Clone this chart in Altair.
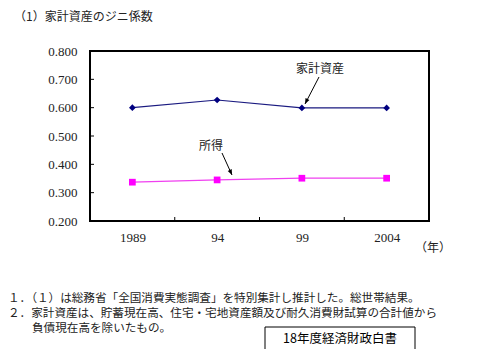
import altair as alt
import pandas as pd

years = ["1989", "94", "99", "2004"]
assets = [0.600, 0.627, 0.599, 0.599]
income = [0.337, 0.345, 0.351, 0.351]
y_ticks = [0.2, 0.3, 0.4, 0.5, 0.6, 0.7, 0.8]

title_text = "（1）家計資産のジニ係数"
notes = [
    "１．（１）は総務省「全国消費実態調査」を特別集計し推計した。総世帯結果。",
    "２．家計資産は、貯蓄現在高、住宅・宅地資産額及び耐久消費財試算の合計値から",
    "負債現在高を除いたもの。",
]
note_indent = [0, 0, 24]
source_text = "18年度経済財政白書"
unit_text = "（年）"

W, H = 339, 170
L, T = 82, 43  # padding -> plot origin at (90, 51) on page
JP = "Noto Sans CJK JP"
NUM = "Liberation Serif"

df = pd.DataFrame({
    "pos": list(range(len(years))) * 2,
    "year": years * 2,
    "value": assets + income,
    "series": ["家計資産"] * len(years) + ["所得"] * len(years),
})

xscale = alt.Scale(domain=[-0.5, len(years) - 0.5], nice=False, zero=False)
yscale = alt.Scale(domain=[0.2, 0.8], nice=False, zero=False)
xaxis = alt.Axis(values=list(range(len(years))), title=None, ticks=False, domain=False, grid=False,
                 labelExpr="['" + "','".join(years) + "'][datum.value]", labelOverlap=False,
                 labelFont=NUM, labelFontSize=13, labelColor="#222", labelPadding=10)
yaxis = alt.Axis(values=y_ticks, format=".3f", title=None, ticks=False, domain=False, grid=False,
                 labelOverlap=False, labelFont=NUM, labelFontSize=13, labelColor="#222",
                 labelPadding=13)
xs = alt.X("pos:Q", scale=xscale, axis=xaxis, title=None)
ys = alt.Y("value:Q", scale=yscale, axis=yaxis, title=None)

base = alt.Chart(df)
color_scale = alt.Scale(domain=["家計資産", "所得"], range=["#1a1a80", "#F040F0"])

lines = base.mark_line(strokeWidth=1.2).encode(
    x=xs, y=ys, color=alt.Color("series:N", scale=color_scale, legend=None)
)
pts_a = base.transform_filter(alt.datum.series == "家計資産").mark_point(
    shape="diamond", filled=True, size=45, color="#000080", opacity=1
).encode(x=xs, y=ys)
pts_i = base.transform_filter(alt.datum.series == "所得").mark_point(
    shape="square", filled=True, size=45, color="#FF00FF", opacity=1
).encode(x=xs, y=ys)

# inner ticks
ytick_df = pd.DataFrame({"value": y_ticks[1:-1]})
yticks = alt.Chart(ytick_df).mark_rule(color="black", strokeWidth=1).encode(
    y=ys, x=alt.value(0), x2=alt.value(4))
xtick_df = pd.DataFrame({"pos": [i + 0.5 for i in range(len(years) - 1)]})
xticks = alt.Chart(xtick_df).mark_rule(color="black", strokeWidth=1).encode(
    x=xs, y=alt.value(H), y2=alt.value(H - 4))

def txt(s, x, y, size=12, align="left", font=JP, color="#222"):
    return alt.Chart(pd.DataFrame({"t": [s]})).mark_text(
        align=align, baseline="middle", font=font, fontSize=size, color=color
    ).encode(text="t:N", x=alt.value(x), y=alt.value(y))

def arrow(x1, y1, x2, y2, ang):
    seg = alt.Chart(pd.DataFrame({"a": [0]})).mark_rule(color="black", strokeWidth=1).encode(
        x=alt.value(x1), y=alt.value(y1), x2=alt.value(x2), y2=alt.value(y2))
    head = alt.Chart(pd.DataFrame({"a": [0]})).mark_point(
        shape="M0,0 L-0.4,1 L0.4,1 Z", filled=True, color="black", size=120, angle=ang, opacity=1
    ).encode(x=alt.value(x2), y=alt.value(y2))
    return seg + head

ox, oy = 90, 51  # page coords of plot origin
layers = [lines, pts_a, pts_i, yticks, xticks,
          txt("家計資産", 320 - ox, 69 - oy, size=12, align="center"),
          arrow(319 - ox, 77 - oy, 305 - ox, 104 - oy, 206.6),
          txt("所得", 211 - ox, 146 - oy, size=12, align="center"),
          arrow(222 - ox, 153 - oy, 232 - ox, 175 - oy, 155.6),
          txt(title_text, 14 - ox, 17 - oy, size=12),
          txt(unit_text, 415 - ox, 248 - oy, size=12),
          ]
for i, n in enumerate(notes):
    layers.append(txt(n, 8 + note_indent[i] - ox, 299 + 15 * i - oy, size=11.6))

box = alt.Chart(pd.DataFrame({"a": [0]})).mark_rect(fill="white", stroke="black", strokeWidth=1).encode(
    x=alt.value(265 - ox), x2=alt.value(415 - ox), y=alt.value(327 - oy), y2=alt.value(350 - oy))
layers.append(box)
layers.append(txt(source_text, 340 - ox, 339 - oy, size=12.5, align="center", color="#000"))

chart = alt.layer(*layers).properties(
    width=W, height=H,
    autosize=alt.AutoSizeParams(type="none"),
    padding={"left": L, "top": T, "right": 40, "bottom": 128},
    background="white",
).configure_view(stroke="black", strokeWidth=2).configure_axis(
    labelFont=NUM, labelFontSize=13, labelColor="#222"
)

chart.save("out.html", embed_options={"renderer": "svg", "actions": False})
